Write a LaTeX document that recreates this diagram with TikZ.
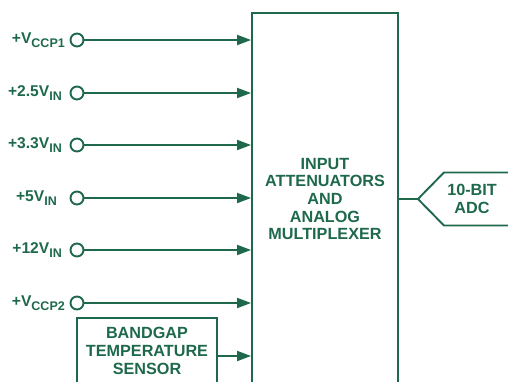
\documentclass[tikz,border=0pt]{standalone}
\usepackage{fontspec}
\setmainfont{Liberation Sans}
\usetikzlibrary{arrows.meta,positioning}
\definecolor{adgreen}{RGB}{30,105,75}
\newcommand{\vsub}[1]{\raisebox{-0.3em}{\fontsize{12.5}{12.5}\selectfont #1}}

\begin{document}
\begin{tikzpicture}[x=1pt,y=-1pt,>={Triangle[length=14pt,width=10pt]},
  every node/.style={text=adgreen,font=\fontsize{16.2}{17.7}\selectfont\bfseries},
  blk/.style={draw=adgreen,line width=1.9pt,inner sep=0pt},
  pin/.style={draw=adgreen,line width=1.9pt,circle,fill=white,
    minimum size=13pt,inner sep=0pt},
  sig/.style={->,draw=adgreen,fill=adgreen,line width=1.9pt},
  lbl/.style={anchor=base east,inner sep=0pt,font=\fontsize{15.6}{17}\selectfont\bfseries}]
 \clip (0,0) rectangle (508,381);
 % multiplexer block, open at the bottom
 \node[blk,minimum width=146pt,minimum height=372pt,align=center] (mux)
   at (325,199) {INPUT\\ATTENUATORS\\AND\\ANALOG\\MULTIPLEXER};
 % supply inputs
 \foreach \n/\y/\txt/\gx in {1/40/{+V\vsub{CCP1}}/65, 2/93/{+2.5V\vsub{IN}}/62,
    3/145/{+3.3V\vsub{IN}}/62, 4/198/{+5V\vsub{IN}}/57,
    5/250/{+12V\vsub{IN}}/62, 6/303/{+V\vsub{CCP2}}/65}{
    \node[pin] (in\n) at (77,\y) {};
    \node[lbl] (lb\n) at (\gx,\y+3) {\txt};
    \draw[sig] (in\n) -- (in\n -| mux.west);
 }
 % temperature sensor
 \node[blk,minimum width=140pt,minimum height=66pt,align=center] (bg)
   at (147,351) {BANDGAP\\TEMPERATURE\\SENSOR};
 \coordinate (bgo) at ([yshift=-5pt]bg.east);
 \draw[sig] (bgo) -- (bgo -| mux.west);
 % converter
 \node[align=center] (adc) at (472,199) {10-BIT\\ADC};
 \draw[adgreen,line width=1.9pt] (mux.east |- adc) -- ++(19,0) coordinate (adctip)
   -- ++(26,-26.5) -- ++(75,0);
 \draw[adgreen,line width=1.9pt] (adctip) -- ++(26,26.5) -- ++(75,0);
\end{tikzpicture}
\end{document}
